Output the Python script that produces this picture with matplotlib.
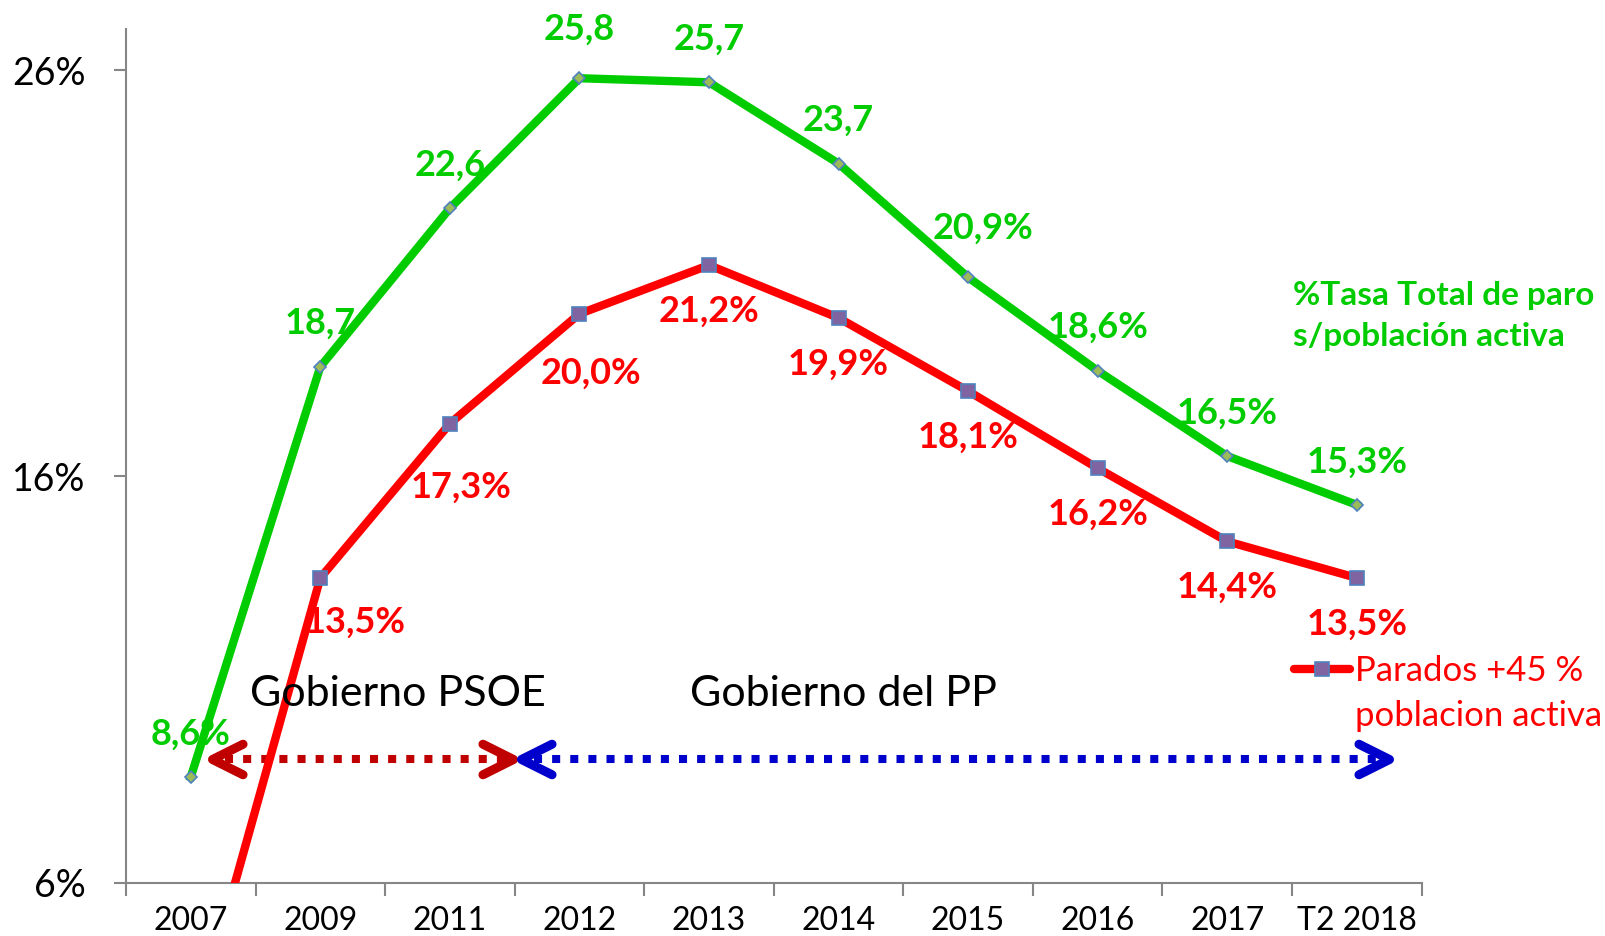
import numpy as np
import matplotlib
matplotlib.use('Agg')
import matplotlib.pyplot as plt
from matplotlib.path import Path
from matplotlib.markers import MarkerStyle
from matplotlib.lines import Line2D

### data
years = ['2007', '2009', '2011', '2012', '2013', '2014', '2015', '2016', '2017', 'T2 2018']
tasa_total = [8.6, 18.7, 22.6, 25.8, 25.7, 23.7, 20.9, 18.6, 16.5, 15.3]
parados_45 = [2.1, 13.5, 17.3, 20.0, 21.2, 19.9, 18.1, 16.2, 14.4, 13.5]
tasa_labels = ['8,6%', '18,7', '22,6', '25,8', '25,7', '23,7', '20,9%', '18,6%', '16,5%', '15,3%']
parados_labels = [None, '13,5%', '17,3%', '20,0%', '21,2%', '19,9%', '18,1%', '16,2%', '14,4%', '13,5%']
yticks = [6, 16, 26]
ytick_labels = ['6%', '16%', '26%']

# label offsets in points (dx, dy)
tasa_off = [(0, 31), (0, 31), (0, 31), (0, 35), (0, 31), (0, 31), (11, 35), (0, 31), (0, 31), (0, 31)]
parados_off = [(0, -33), (25, -32), (8, -46), (8, -43), (0, -33), (0, -33), (0, -33), (0, -33), (0, -33), (0, -33)]

GREEN = '#00CC00'
RED = '#FF0000'
GRAY = '#868686'

plt.rcParams['font.family'] = ['Lato', 'DejaVu Sans']

fig = plt.figure(figsize=(16.05, 9.36), dpi=100)
ax = fig.add_axes([0.0785, 0.057, 0.8072, 0.9115])

x = np.arange(len(years))
ax.plot(x, tasa_total, color=GREEN, lw=6, marker='D', ms=6.5,
        mfc='#9BBB59', mec='#4F81BD', mew=1.2, zorder=3)
red_line, = ax.plot(x, parados_45, color=RED, lw=6, marker='s', ms=10.5,
                    mfc='#8064A2', mec='#4F81BD', mew=1.2, zorder=3,
                    solid_capstyle='round')

for xi, v, lab, off in zip(x, tasa_total, tasa_labels, tasa_off):
    ax.annotate(lab, (xi, v), xytext=off, textcoords='offset points',
                ha='center', va='center', fontsize=26, fontweight='bold',
                color=GREEN, annotation_clip=False, zorder=4)
for xi, v, lab, off in zip(x, parados_45, parados_labels, parados_off):
    if lab is None:
        continue
    ax.annotate(lab, (xi, v), xytext=off, textcoords='offset points',
                ha='center', va='center', fontsize=26, fontweight='bold',
                color=RED, annotation_clip=False, zorder=4)

### government periods
arrow_y = 9.05
head_l = MarkerStyle(Path([(1, 0.5), (0, 0), (1, -0.5)], [Path.MOVETO, Path.LINETO, Path.LINETO]),
                     fillstyle='none', capstyle='round', joinstyle='miter')
head_r = MarkerStyle(Path([(-1, 0.5), (0, 0), (-1, -0.5)], [Path.MOVETO, Path.LINETO, Path.LINETO]),
                     fillstyle='none', capstyle='round', joinstyle='miter')
for x0, x1, c in [(0.164, 2.49, '#C00000'), (2.55, 9.25, '#0000CC')]:
    ax.plot([x0 + 0.1, x1 - 0.05], [arrow_y, arrow_y], color=c, lw=5.8,
            ls=(0, (1, 1.25)), dash_capstyle='butt', zorder=2)
    ax.plot([x0], [arrow_y], marker=head_l, ms=44, mec=c, mew=6.5, zorder=2)
    ax.plot([x1], [arrow_y], marker=head_r, ms=44, mec=c, mew=6.5, zorder=2)

ax.text(0.457, 10.65, 'Gobierno PSOE', fontsize=31, va='center', ha='left')
ax.text(3.85, 10.65, 'Gobierno del PP', fontsize=31, va='center', ha='left')

### series names
ax.text(8.51, 19.95, '%Tasa Total de paro\ns/población activa', fontsize=24,
        fontweight='bold', color=GREEN, va='center', ha='left', linespacing=1.5)
blank = Line2D([], [], color='none')
leg = ax.legend([red_line, blank], ['Parados +45 %', 'poblacion activa'],
                loc='upper left', bbox_to_anchor=(0.891, 0.283), frameon=False,
                fontsize=25, handlelength=1.6, handletextpad=0.15,
                labelspacing=0.37, borderaxespad=0)
for t in leg.get_texts():
    t.set_color(RED)
leg.set_clip_on(False)

### axes styling
ax.set_xlim(-0.5, len(years) - 0.5)
ax.set_ylim(6, 27)
ax.set_yticks(yticks)
ax.set_yticklabels(ytick_labels)
ax.set_xticks(x)
ax.set_xticklabels(years)
ax.set_xticks(np.arange(-0.5, len(years), 1), minor=True)
ax.tick_params(axis='x', which='major', length=0, pad=17, labelsize=23)
ax.tick_params(axis='x', which='minor', length=9, width=1.5, color=GRAY, direction='out')
ax.tick_params(axis='y', length=9, width=1.5, color=GRAY, direction='out', pad=20, labelsize=27)
for s in ['top', 'right']:
    ax.spines[s].set_visible(False)
for s in ['left', 'bottom']:
    ax.spines[s].set_color(GRAY)
    ax.spines[s].set_linewidth(1.5)

fig.savefig('out.png', dpi=100)
